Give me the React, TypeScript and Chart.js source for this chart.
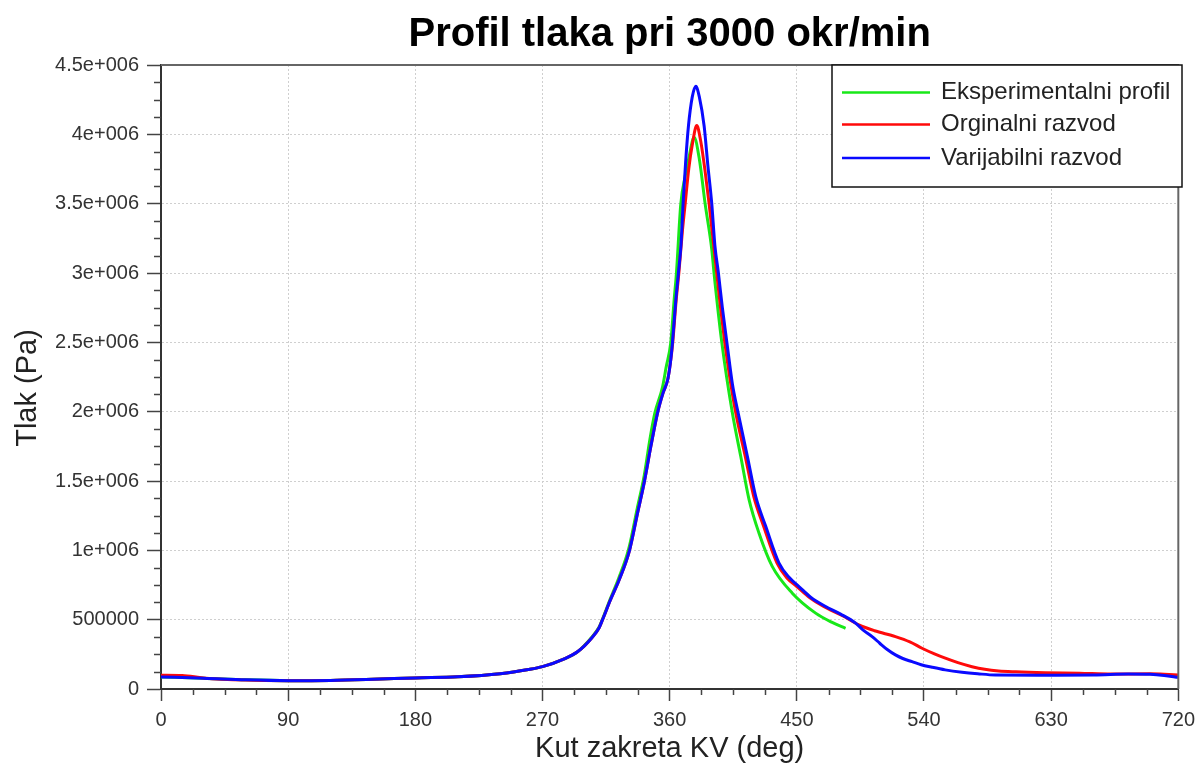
import React, { useEffect, useRef } from "react";
import { Chart, registerables } from "chart.js";

Chart.register(...registerables);

const TITLE = "Profil tlaka pri 3000 okr/min";
const X_TITLE = "Kut zakreta KV (deg)";
const Y_TITLE = "Tlak (Pa)";
const SERIES_NAMES = ["Eksperimentalni profil", "Orginalni razvod", "Varijabilni razvod"];
const SERIES_COLORS = ["#18e818", "#ff0a0a", "#0a0aff"];

const X_TICKS = [0, 90, 180, 270, 360, 450, 540, 630, 720];
const Y_TICKS = [0, 500000, 1000000, 1500000, 2000000, 2500000, 3000000, 3500000, 4000000, 4500000];
const Y_TICK_LABELS = ["0", "500000", "1e+006", "1.5e+006", "2e+006", "2.5e+006", "3e+006", "3.5e+006", "4e+006", "4.5e+006"];

// Eksperimentalni profil
const expAngle = [0, 30, 60, 90, 120, 150, 180, 210, 240, 260, 270, 285, 295, 305, 310, 312.5, 318, 324, 331, 337, 342, 346, 349.5, 355, 357.5, 360.8, 363.2, 364.8, 367.9, 371, 373.8, 377.3, 381, 385.1, 389.8, 391.4, 396.9, 404.4, 410.3, 416.2, 423.2, 432.6, 446.8, 463.3, 475, 484.5];
const expPressure = [87000, 78000, 66000, 60000, 62000, 70000, 80000, 88000, 110000, 140000, 161000, 215000, 270000, 375000, 445000, 505000, 650000, 800000, 1010000, 1300000, 1540000, 1800000, 1990000, 2180000, 2320000, 2500000, 2810000, 3000000, 3500000, 3700000, 3840000, 3979000, 3822000, 3500000, 3170000, 3000000, 2500000, 1990000, 1678000, 1366000, 1125000, 884000, 691000, 547000, 480000, 438000];

// Orginalni razvod
const origAngle = [0, 15, 30, 60, 90, 120, 150, 180, 210, 240, 260, 270, 285, 295, 305, 310, 312.5, 318, 324.3, 331.4, 337.3, 342, 346.7, 351.4, 355.4, 358.6, 360.5, 362.2, 364.4, 366.5, 369, 371, 373.5, 376.1, 379.2, 382, 385, 387.9, 393.3, 396, 399, 402.5, 406.8, 413.5, 419.5, 426.5, 436, 443, 450, 459, 469, 482, 493.9, 505, 519.8, 530, 538.6, 547, 555.1, 564, 574, 583, 592.8, 605, 625.8, 650, 672.8, 700, 710, 720];
const origPressure = [100000, 98000, 80000, 64000, 60000, 62000, 70000, 80000, 88000, 110000, 140000, 161000, 215000, 270000, 370000, 440000, 500000, 640000, 788000, 992000, 1270000, 1490000, 1750000, 1990000, 2137000, 2230000, 2350000, 2500000, 2780000, 3000000, 3300000, 3500000, 3750000, 3930000, 4063000, 3950000, 3740000, 3500000, 3000000, 2750000, 2500000, 2250000, 1990000, 1678000, 1389000, 1173000, 908000, 800000, 739000, 660000, 595000, 530000, 462000, 420000, 378000, 340000, 294000, 255000, 222000, 190000, 161000, 142000, 130000, 124000, 118000, 114000, 108000, 110000, 106000, 101000];

// Varijabilni razvod
const varAngle = [0, 30, 60, 90, 120, 150, 180, 210, 240, 260, 270, 285, 295, 305, 310, 312.5, 318, 324.3, 331.4, 337.3, 342, 346.7, 351.4, 355.4, 358.6, 360.5, 362, 364.4, 366.2, 368, 369.5, 371.3, 373.3, 376, 378.5, 381, 384.4, 387, 389.8, 392, 394.5, 397.3, 400.5, 404.4, 408.5, 415, 420.9, 428, 437.4, 445, 451.5, 460, 470.4, 481, 491.6, 497, 503.3, 508.7, 514, 519.8, 525, 531.6, 538, 545.7, 555, 566.9, 578, 590.5, 620, 660, 684.7, 700, 710, 720];
const varPressure = [87000, 78000, 66000, 60000, 62000, 70000, 80000, 88000, 110000, 140000, 161000, 215000, 270000, 370000, 440000, 500000, 640000, 788000, 992000, 1270000, 1490000, 1750000, 1990000, 2137000, 2230000, 2350000, 2500000, 2810000, 3000000, 3200000, 3500000, 3800000, 4060000, 4270000, 4347000, 4270000, 4060000, 3780000, 3500000, 3200000, 3000000, 2750000, 2500000, 2200000, 1990000, 1678000, 1389000, 1173000, 908000, 800000, 739000, 660000, 595000, 540000, 475000, 425000, 378000, 330000, 285000, 246000, 220000, 197000, 175000, 157000, 138000, 121000, 110000, 101000, 100000, 101000, 108000, 106000, 98000, 84000];

const FONT = "'Liberation Sans', Arial, sans-serif";

const toPoints = (xs: number[], ys: number[]) => xs.map((x, i) => ({ x, y: ys[i] }));

const decorPlugin = {
  id: "decor",
  beforeDraw(chart: any) {
    const { ctx } = chart;
    ctx.save();
    ctx.fillStyle = "#ffffff";
    ctx.fillRect(0, 0, chart.width, chart.height);
    ctx.restore();
  },
  afterDraw(chart: any) {
    const { ctx, chartArea } = chart;
    const xs = chart.scales.x;
    const ys = chart.scales.y;
    ctx.save();
    // frame top/right
    ctx.strokeStyle = "#666666";
    ctx.lineWidth = 2;
    ctx.beginPath();
    ctx.moveTo(chartArea.left, chartArea.top);
    ctx.lineTo(chartArea.right, chartArea.top);
    ctx.lineTo(chartArea.right, chartArea.bottom);
    ctx.stroke();
    // minor ticks
    ctx.strokeStyle = "#444444";
    ctx.lineWidth = 1.5;
    ctx.beginPath();
    for (let v = 22.5; v < 720; v += 22.5) {
      if (v % 90 === 0) continue;
      const px = Math.round(xs.getPixelForValue(v)) + 0.5;
      ctx.moveTo(px, chartArea.bottom);
      ctx.lineTo(px, chartArea.bottom + 6);
    }
    for (let v = 125000; v < 4500000; v += 125000) {
      if (v % 500000 === 0) continue;
      const py = Math.round(ys.getPixelForValue(v)) + 0.5;
      ctx.moveTo(chartArea.left, py);
      ctx.lineTo(chartArea.left - 7, py);
    }
    ctx.stroke();

    // title
    ctx.fillStyle = "#000000";
    ctx.textAlign = "center";
    ctx.textBaseline = "alphabetic";
    ctx.font = `bold 40px ${FONT}`;
    const cx = (chartArea.left + chartArea.right) / 2;
    ctx.fillText(TITLE, cx, 46);
    // x title
    ctx.font = `29px ${FONT}`;
    ctx.fillStyle = "#222222";
    ctx.textBaseline = "middle";
    ctx.fillText(X_TITLE, cx, 749);
    // y title
    ctx.save();
    ctx.translate(28, 388);
    ctx.rotate(-Math.PI / 2);
    ctx.fillText(Y_TITLE, 0, 0);
    ctx.restore();

    // legend
    const lx = 832, ly = 65, lw = 350, lh = 122;
    ctx.fillStyle = "#ffffff";
    ctx.fillRect(lx, ly, lw, lh);
    ctx.strokeStyle = "#111111";
    ctx.lineWidth = 1.5;
    ctx.strokeRect(lx, ly, lw, lh);
    const rows = [92.5, 124.5, 158];
    ctx.font = `24px ${FONT}`;
    ctx.textAlign = "left";
    ctx.textBaseline = "middle";
    SERIES_NAMES.forEach((name, i) => {
      ctx.strokeStyle = SERIES_COLORS[i];
      ctx.lineWidth = 2.5;
      ctx.beginPath();
      ctx.moveTo(842, rows[i]);
      ctx.lineTo(930, rows[i]);
      ctx.stroke();
      ctx.fillStyle = "#222222";
      ctx.fillText(name, 941, rows[i]);
    });
    ctx.restore();
  },
};

export default function App() {
  const ref = useRef<HTMLCanvasElement | null>(null);
  useEffect(() => {
    document.body.style.margin = "0";
    const canvas = ref.current!;
    const series = [toPoints(expAngle, expPressure), toPoints(origAngle, origPressure), toPoints(varAngle, varPressure)];
    const chart = new Chart(canvas, {
      type: "line",
      data: {
        datasets: series.map((d, i) => ({
          label: SERIES_NAMES[i],
          data: d,
          borderColor: SERIES_COLORS[i],
          backgroundColor: SERIES_COLORS[i],
          borderWidth: 3,
          pointRadius: 0,
          fill: false,
          cubicInterpolationMode: "monotone" as const,
          order: 3 - i,
        })),
      },
      options: {
        animation: false,
        responsive: false,
        maintainAspectRatio: false,
        layout: { padding: { top: 65, right: 22, left: 0, bottom: 0 } },
        plugins: { legend: { display: false }, title: { display: false }, tooltip: { enabled: false } },
        scales: {
          x: {
            type: "linear",
            min: 0,
            max: 720,
            afterFit: (s: any) => { s.height = 83; },
            afterBuildTicks: (s: any) => { s.ticks = X_TICKS.map((v) => ({ value: v })); },
            ticks: {
              font: { family: FONT, size: 20 },
              color: "#333333",
              padding: 7,
              maxRotation: 0,
              callback: (v: any) => String(v),
            },
            grid: {
              color: "#cfcfcf",
              lineWidth: 1,
              drawTicks: true,
              tickLength: 12,
              tickColor: "#444444",
              tickWidth: 1.5,
            },
            border: { display: true, color: "#333333", width: 2, dash: [2, 2] },
          },
          y: {
            type: "linear",
            min: 0,
            max: 4500000,
            afterFit: (s: any) => { s.width = 161; },
            afterBuildTicks: (s: any) => { s.ticks = Y_TICKS.map((v) => ({ value: v })); },
            ticks: {
              font: { family: FONT, size: 20 },
              color: "#333333",
              padding: 8,
              callback: (v: any) => {
                const idx = Y_TICKS.indexOf(Number(v));
                return idx >= 0 ? Y_TICK_LABELS[idx] : "";
              },
            },
            grid: {
              color: "#cfcfcf",
              lineWidth: 1,
              drawTicks: true,
              tickLength: 14,
              tickColor: "#444444",
              tickWidth: 1.5,
            },
            border: { display: true, color: "#333333", width: 2, dash: [2, 2] },
          },
        },
      },
      plugins: [decorPlugin],
    });
    return () => chart.destroy();
  }, []);
  return (
    <div style={{ width: 1202, height: 772 }}>
      <canvas ref={ref} width={1202} height={772} style={{ display: "block" }} />
    </div>
  );
}
